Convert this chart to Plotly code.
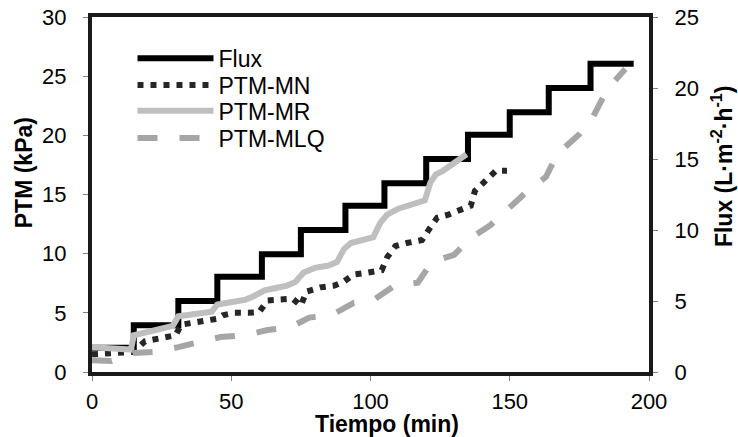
import plotly.graph_objects as go

# ---- data ----
time_flux = [0, 15, 31, 45, 61, 75, 91, 105, 120, 135, 150, 164, 179, 194.5]
flux = [1.7, 3.3, 5.0, 6.7, 8.3, 10.0, 11.7, 13.3, 15.0, 16.7, 18.3, 20.0, 21.7, 21.7]

time_mn = [0, 14, 15, 19, 25, 30, 32, 37, 41, 45, 47, 51, 56, 60, 63, 68, 72, 75, 77, 82, 87, 90.5,
           94, 99, 104, 106, 109, 113, 118.5, 121, 124, 128, 132, 136, 137.5, 141, 145, 149]
ptm_mn = [1.5, 1.6, 1.7, 2.6, 2.9, 3.1, 4.0, 4.2, 4.35, 4.5, 4.8, 5.0, 5.0, 5.05, 6.05, 6.15, 6.2, 5.6, 6.8, 7.15, 7.3, 7.65,
          8.25, 8.4, 8.6, 9.7, 10.65, 10.9, 11.15, 12.05, 13.05, 13.3, 13.7, 14.05, 15.3, 16.1, 17.0, 17.0]

time_mr = [0, 5, 10, 14, 15, 20, 25, 29, 31, 35, 40, 43, 45, 50, 55, 58, 62, 66, 70, 73, 76, 80,
           85, 88, 90.5, 93, 97, 101, 103.5, 106, 110, 115, 119.5, 121.5, 123.5, 126, 130, 134.5]
ptm_mr = [2.1, 2.0, 1.9, 1.9, 3.1, 3.4, 3.7, 3.9, 4.7, 4.85, 4.95, 5.1, 5.7, 5.9, 6.1, 6.4, 6.9, 7.1, 7.3, 7.6, 8.4, 8.8,
          9.0, 9.3, 10.4, 10.9, 11.2, 11.4, 12.6, 13.3, 13.8, 14.1, 14.5, 16.0, 16.7, 17.0, 17.6, 18.4]

time_mlq = [0, 7, 15, 22, 31, 38, 46, 55, 63, 71, 78, 86, 94, 101, 109, 117, 122, 130, 136.5, 143,
            150, 155.5, 163, 167, 175, 180, 185, 191.5]
ptm_mlq = [1.0, 0.93, 1.6, 1.7, 2.1, 2.5, 2.95, 3.1, 3.55, 3.75, 4.6, 4.8, 5.85, 6.08, 7.35, 7.54, 9.3, 9.9, 11.4, 12.4,
           14.0, 15.1, 16.5, 18.4, 20.1, 21.6, 23.9, 25.6]

x_ticks = [0, 50, 100, 150, 200]
ptm_ticks = [0, 5, 10, 15, 20, 25, 30]
flux_ticks = [0, 5, 10, 15, 20, 25]

FONT = "Liberation Sans, Arial, sans-serif"
AXCOL = "#1a1a1a"

fig = go.Figure()

fig.add_trace(go.Scatter(
    x=time_flux, y=flux, name="Flux", yaxis="y", mode="lines", legend="legend",
    line=dict(color="#000000", width=6, shape="hv"),
))
fig.add_trace(go.Scatter(
    x=time_mn, y=ptm_mn, name="PTM-MN", yaxis="y2", mode="lines", legend="legend2",
    line=dict(color="#262626", width=6, dash="6px,7px"),
))
fig.add_trace(go.Scatter(
    x=time_mr, y=ptm_mr, name="PTM-MR", yaxis="y2", mode="lines", legend="legend3",
    line=dict(color="#BFBFBF", width=6),
))
fig.add_trace(go.Scatter(
    x=time_mlq, y=ptm_mlq, name="PTM-MLQ", yaxis="y2", mode="lines", legend="legend4",
    line=dict(color="#A6A6A6", width=6, dash="20px,22px"),
))

tickfont = dict(family=FONT, size=22, color="#000000")


def leg(ypos):
    return dict(
        x=0.0727, y=ypos, xanchor="left", yanchor="middle",
        bgcolor="rgba(0,0,0,0)", borderwidth=0,
        font=dict(family=FONT, size=23, color="#000000"),
        itemwidth=76,
    )


fig.update_layout(
    width=738, height=437,
    margin=dict(l=92, r=89, t=17, b=65, autoexpand=False),
    paper_bgcolor="white", plot_bgcolor="white",
    font=dict(family=FONT, size=22, color="#000000"),
    showlegend=True,
    legend=leg(0.884),
    legend2=leg(0.808),
    legend3=leg(0.736),
    legend4=leg(0.659),
    xaxis=dict(
        range=[0, 200], tickvals=x_ticks, showgrid=False, zeroline=False, automargin=False,
        showline=True, linecolor=AXCOL, linewidth=4, mirror=True,
        ticks="outside", ticklen=5, tickcolor="#808080", tickwidth=1,
        tickfont=tickfont, ticklabelstandoff=2,
    ),
    yaxis=dict(
        range=[0, 25], tickvals=flux_ticks, side="right", showgrid=False, zeroline=False, automargin=False,
        showline=True, linecolor=AXCOL, linewidth=4,
        ticks="outside", ticklen=5, tickcolor="#808080", tickwidth=1,
        tickfont=tickfont, ticklabelstandoff=12,
    ),
    yaxis2=dict(
        range=[0, 30], tickvals=ptm_ticks, side="left", overlaying="y", showgrid=False, zeroline=False,
        automargin=False,
        showline=True, linecolor=AXCOL, linewidth=4,
        ticks="outside", ticklen=5, tickcolor="#808080", tickwidth=1,
        tickfont=tickfont, ticklabelstandoff=12,
    ),
    annotations=[
        dict(text="<b>Tiempo (min)</b>", xref="paper", yref="paper", x=0.53, y=-0.146,
             xanchor="center", yanchor="middle", showarrow=False,
             font=dict(family=FONT, size=23, color="#000000")),
        dict(text="<b>PTM (kPa)</b>", xref="paper", yref="paper", x=-0.122, y=0.56,
             xanchor="center", yanchor="middle", showarrow=False, textangle=-90,
             font=dict(family=FONT, size=23, color="#000000")),
        dict(text="<b>Flux (L·m<sup>-2</sup>·h<sup>-1</sup>)</b>", xref="paper", yref="paper", x=1.131, y=0.58,
             xanchor="center", yanchor="middle", showarrow=False, textangle=-90,
             font=dict(family=FONT, size=23, color="#000000")),
    ],
)

fig.write_html("out.html")
